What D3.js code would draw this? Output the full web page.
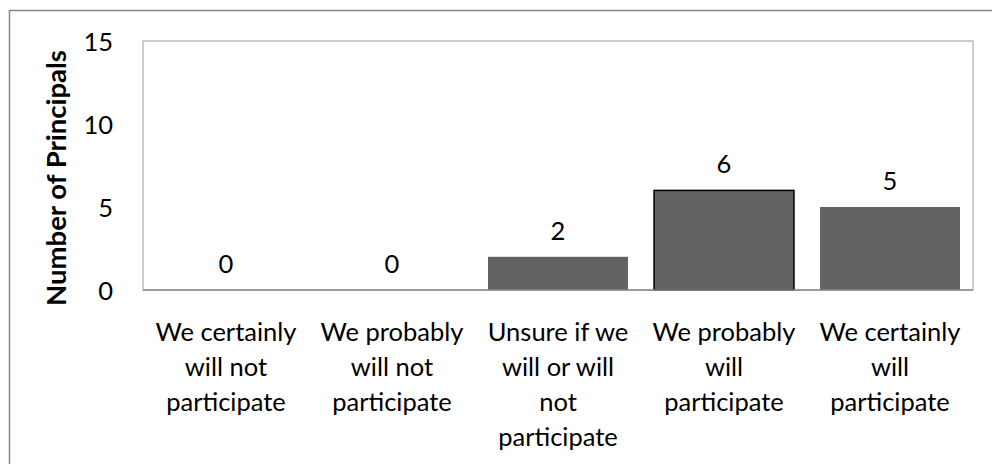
<!DOCTYPE html>
<html>
<head>
<meta charset="utf-8">
<script src="https://cdn.jsdelivr.net/npm/d3@7"></script>
<style>
  html, body { margin: 0; padding: 0; background: #fff; }
  svg { display: block; }
  text { font-family: Lato, "Open Sans", sans-serif; fill: #000; }
</style>
</head>
<body>
<script>
// Survey responses: intent to participate
const categories = [
  "We certainly\nwill not\nparticipate",
  "We probably\nwill not\nparticipate",
  "Unsure if we\nwill or will\nnot\nparticipate",
  "We probably\nwill\nparticipate",
  "We certainly\nwill\nparticipate"
];
const values = [0, 0, 2, 6, 5];
const yTicks = [0, 5, 10, 15];
const yTitle = "Number of Principals";

const W = 992, H = 464;
const plot = { left: 143, right: 973, top: 41, bottom: 290 };
const FS = 25.5;

const svg = d3.select("body").append("svg")
  .attr("width", W).attr("height", H);

// Chart frame (runs past the right and bottom edges)
svg.append("rect")
  .attr("x", 9.5).attr("y", 10.5)
  .attr("width", 1100).attr("height", 600)
  .attr("fill", "none").attr("stroke", "#878787").attr("stroke-width", 1.5);

const x = d3.scaleBand()
  .domain(categories)
  .range([plot.left, plot.right])
  .paddingInner(0.157)
  .paddingOuter(0.0785);

const y = d3.scaleLinear()
  .domain([0, 15])
  .range([plot.bottom, plot.top]);

// Plot area border
svg.append("rect")
  .attr("x", plot.left).attr("y", plot.top)
  .attr("width", plot.right - plot.left).attr("height", plot.bottom - plot.top)
  .attr("fill", "none").attr("stroke", "#bdbdbd").attr("stroke-width", 1.5);

// Bars
svg.append("g").selectAll("rect")
  .data(values)
  .join("rect")
  .attr("x", (d, i) => x(categories[i]))
  .attr("y", d => y(d))
  .attr("width", x.bandwidth())
  .attr("height", d => y(0) - y(d))
  .attr("fill", "#626262")
  .attr("stroke", (d, i) => i === 3 ? "#000" : "none")
  .attr("stroke-width", 1.5);

// Category axis line
svg.append("line")
  .attr("x1", plot.left).attr("x2", plot.right)
  .attr("y1", y(0)).attr("y2", y(0))
  .attr("stroke", "#8a8a8a").attr("stroke-width", 1.5);

// Value labels
svg.append("g").selectAll("text")
  .data(values)
  .join("text")
  .attr("x", (d, i) => x(categories[i]) + x.bandwidth() / 2)
  .attr("y", d => y(d) - 17)
  .attr("text-anchor", "middle")
  .attr("font-size", FS)
  .text(d => d);

// Y axis tick labels
const yAxis = d3.axisLeft(y).tickValues(yTicks).tickSize(0).tickPadding(0);
const yg = svg.append("g")
  .attr("transform", `translate(${113},0)`)
  .call(yAxis);
yg.select(".domain").remove();
yg.selectAll("text")
  .attr("font-size", FS)
  .attr("dy", "0.36em")
  .style("font-family", "Lato, 'Open Sans', sans-serif")
  .attr("fill", "#000");

// Category labels
const xg = svg.append("g");
categories.forEach(c => {
  const t = xg.append("text")
    .attr("x", x(c) + x.bandwidth() / 2)
    .attr("y", 341)
    .attr("text-anchor", "middle")
    .attr("font-size", FS);
  c.split("\n").forEach((line, j) => {
    t.append("tspan")
      .attr("x", x(c) + x.bandwidth() / 2)
      .attr("dy", j === 0 ? 0 : 35)
      .text(line);
  });
});

// Y axis title
svg.append("text")
  .attr("transform", `translate(${66},${178}) rotate(-90)`)
  .attr("text-anchor", "middle")
  .attr("font-size", 27.5)
  .attr("font-weight", "bold")
  .text(yTitle);
</script>
</body>
</html>
